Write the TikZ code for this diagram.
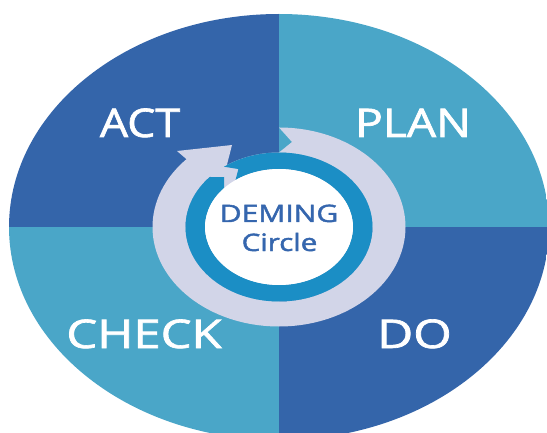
\documentclass[tikz,border=0pt]{standalone}
\usepackage{fontspec}
\setmainfont{Open Sans}
\newfontfamily\labelfont[FakeBold=1.6]{Open Sans}
\usetikzlibrary{calc}
\definecolor{dkblue}{HTML}{3465AA}
\definecolor{ltblue}{HTML}{4AA6C8}
\definecolor{ringgray}{HTML}{D2D5E8}
\definecolor{inblue}{HTML}{1B8EC5}
\definecolor{txtblue}{HTML}{3566AE}
\begin{document}
\begin{tikzpicture}[x=1pt,y=1pt,
  quadlabel/.style={anchor=base, text=white, inner sep=0pt, font=\labelfont\fontsize{39.5}{40}\selectfont},
  centerlabel/.style={anchor=base, text=txtblue, inner sep=0pt, font=\labelfont\fontsize{24}{26}\selectfont}]
\useasboundingbox (0,0) rectangle (547,432);
\fill[white] (0,0) rectangle (547,432);
\coordinate (C) at (279,205);
% quadrants
\begin{scope}
\clip (C) ellipse [x radius=270, y radius=213];
\fill[dkblue] (-10,205) rectangle (279,440);
\fill[ltblue] (279,205) rectangle (560,440);
\fill[ltblue] (-10,-20) rectangle (279,205);
\fill[dkblue] (279,-20) rectangle (560,205);
\end{scope}
% gray arrow
\fill[ringgray] ($(C)+(90:126.5 and 99.5)$)
  arc[start angle=90, end angle=-223, x radius=126.5, y radius=99.5]
  -- (177,281) -- (232,287) -- (220,240)
  -- ($(C)+(-223:93.5 and 74.5)$)
  arc[start angle=-223, end angle=90, x radius=93.5, y radius=74.5]
  -- (292,290) -- cycle;
\fill[ringgray] (C) ellipse [x radius=93.5, y radius=74.5];
% blue inner arrow
\fill[inblue] ($(C)+(126:93.5 and 74.5)$)
  arc[start angle=126, end angle=-222, x radius=93.5, y radius=74.5]
  -- ($(C)+(131:83.75 and 66.25)$)
  -- ($(C)+(-222:74 and 58)$)
  arc[start angle=-222, end angle=126, x radius=74, y radius=58]
  -- ($(C)+(119:83.75 and 66.25)$) -- cycle;
\fill[white] (C) ellipse [x radius=74, y radius=58];
% labels
\node[quadlabel] (act) at (140,295) {\scalebox{1.13}[1]{ACT}};
\node[quadlabel] (plan) at (413,295) {\scalebox{1.17}[1]{PLAN}};
\node[quadlabel] (check) at (144,84) {\scalebox{1.24}[1]{CHECK}};
\node[quadlabel] (do) at (414.5,84) {\scalebox{1.25}[1]{DO}};
\node[centerlabel] (deming) at (279,210) {\scalebox{1.25}[1]{DEMING}};
\node[centerlabel] (circle) at (279.5,181) {\scalebox{1.23}[1]{Circle}};
\end{tikzpicture}
\end{document}
